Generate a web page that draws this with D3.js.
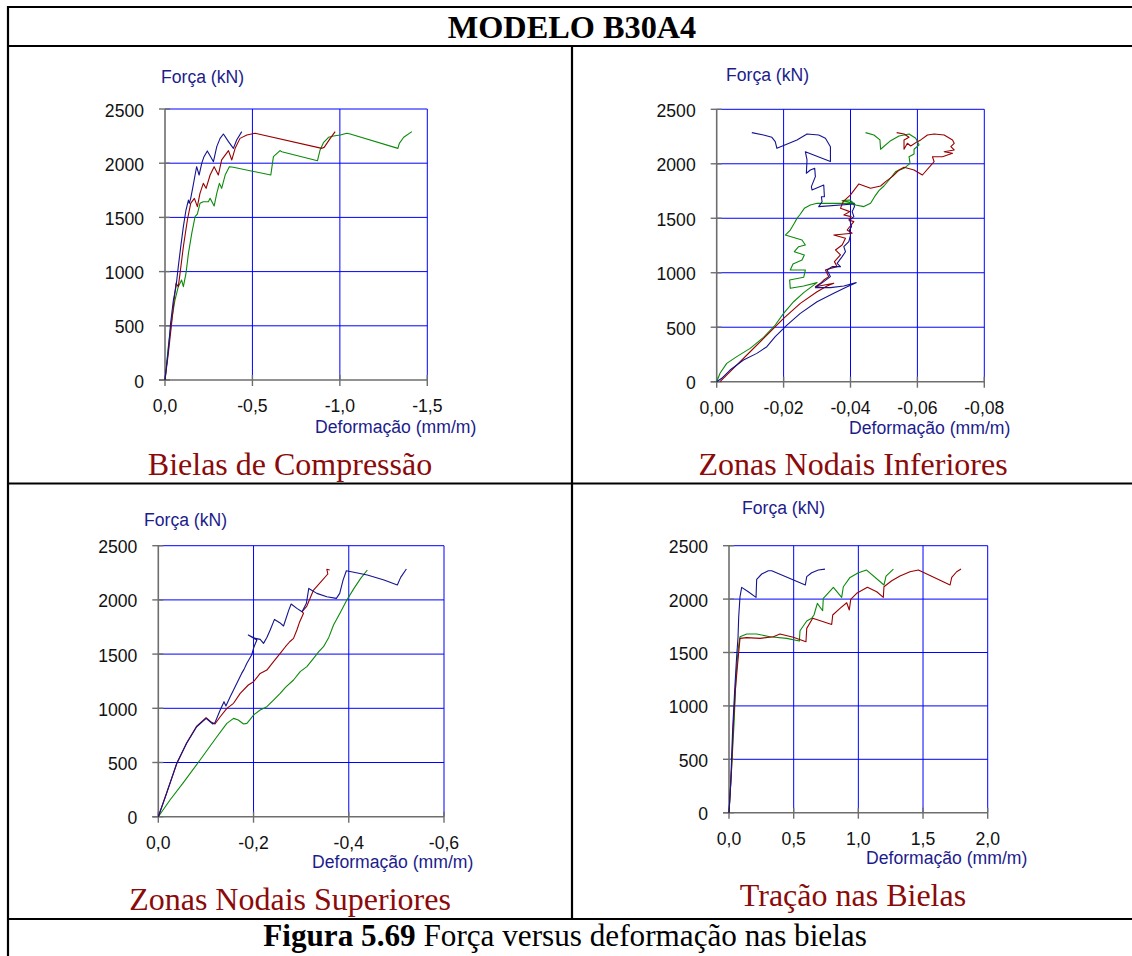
<!DOCTYPE html>
<html><head><meta charset="utf-8">
<script src="https://cdn.jsdelivr.net/npm/d3@7/dist/d3.min.js"></script>
<style>html,body{margin:0;padding:0;background:#fff;}svg{display:block;}</style>
</head><body>
<script>
// ---------- DATA ----------
const title = "MODELO B30A4";
const captionBold = "Figura 5.69";
const captionRest = " Força versus deformação nas bielas";
const panelTitles = ["Bielas de Compressão", "Zonas Nodais Inferiores", "Zonas Nodais Superiores", "Tração nas Bielas"];
const yLabel = "Força (kN)";
const xLabel = "Deformação (mm/m)";
const yTicks = [0, 500, 1000, 1500, 2000, 2500];
const xTicks1 = [0, -0.5, -1.0, -1.5];
const xTicks2 = [0, -0.02, -0.04, -0.06, -0.08];
const xTicks3 = [0, -0.2, -0.4, -0.6];
const xTicks4 = [0, 0.5, 1.0, 1.5, 2.0];
const xTickLabels1 = ["0,0", "-0,5", "-1,0", "-1,5"];
const xTickLabels2 = ["0,00", "-0,02", "-0,04", "-0,06", "-0,08"];
const xTickLabels3 = ["0,0", "-0,2", "-0,4", "-0,6"];
const xTickLabels4 = ["0,0", "0,5", "1,0", "1,5", "2,0"];

// Panel 1 - Bielas de Compressão  [strain, force]
const p1Blue = [[0,0],[-0.019,277],[-0.032,523],[-0.048,738],[-0.063,861],[-0.076,1046],[-0.090,1230],[-0.105,1415],[-0.120,1568],[-0.134,1660],[-0.139,1630],[-0.147,1676],[-0.158,1768],[-0.172,1891],[-0.181,1968],[-0.195,1891],[-0.210,1999],[-0.223,2060],[-0.242,2113],[-0.261,2060],[-0.277,2014],[-0.296,2153],[-0.315,2229],[-0.334,2269],[-0.363,2199],[-0.391,2137],[-0.410,2214],[-0.439,2291]];
const p1Red = [[0,0],[-0.019,246],[-0.038,523],[-0.052,738],[-0.063,892],[-0.076,861],[-0.086,984],[-0.105,1230],[-0.128,1476],[-0.147,1630],[-0.168,1676],[-0.185,1599],[-0.200,1722],[-0.219,1814],[-0.235,1768],[-0.258,1891],[-0.281,1968],[-0.305,1891],[-0.324,2030],[-0.363,2116],[-0.382,2030],[-0.401,2137],[-0.429,2229],[-0.468,2260],[-0.515,2276],[-0.897,2137],[-0.910,2146],[-0.945,2229],[-0.973,2291]];
const p1Green = [[0,0],[-0.019,308],[-0.038,553],[-0.057,738],[-0.076,861],[-0.095,922],[-0.105,861],[-0.120,984],[-0.134,1168],[-0.153,1353],[-0.172,1507],[-0.185,1531],[-0.200,1630],[-0.219,1645],[-0.248,1645],[-0.258,1676],[-0.281,1605],[-0.296,1722],[-0.311,1814],[-0.324,1768],[-0.344,1891],[-0.368,1968],[-0.391,1962],[-0.605,1891],[-0.620,2060],[-0.658,2116],[-0.668,2106],[-0.872,2023],[-0.887,2122],[-0.906,2189],[-0.935,2239],[-0.964,2251],[-1.002,2260],[-1.040,2276],[-1.059,2269],[-1.332,2137],[-1.340,2183],[-1.365,2239],[-1.412,2291]];

// Panel 2 - Zonas Nodais Inferiores
const p2Blue = [[0,0],[-0.0015,31],[-0.004,107],[-0.008,199],[-0.012,260],[-0.015,321],[-0.0175,413],[-0.021,520],[-0.025,627],[-0.030,734],[-0.035,811],[-0.039,872],[-0.0417,909],[-0.038,878],[-0.034,863],[-0.0295,863],[-0.032,918],[-0.034,964],[-0.033,1025],[-0.0345,1056],[-0.037,1056],[-0.036,1086],[-0.0375,1148],[-0.0385,1193],[-0.038,1239],[-0.0395,1285],[-0.040,1346],[-0.0397,1392],[-0.0403,1423],[-0.0398,1484],[-0.041,1515],[-0.0405,1561],[-0.0412,1607],[-0.041,1631],[-0.0305,1607],[-0.0315,1652],[-0.0313,1698],[-0.0322,1698],[-0.032,1805],[-0.0285,1760],[-0.0283,1790],[-0.0295,1882],[-0.0293,1958],[-0.028,1943],[-0.0268,1913],[-0.027,2035],[-0.0265,2111],[-0.034,2020],[-0.034,2157],[-0.0325,2234],[-0.0305,2264],[-0.027,2274],[-0.024,2219],[-0.018,2142],[-0.0175,2203],[-0.0165,2243],[-0.014,2264],[-0.0105,2286]];
const p2Red = [[-0.001,0],[-0.005,122],[-0.010,275],[-0.015,428],[-0.020,581],[-0.025,719],[-0.030,826],[-0.033,878],[-0.035,903],[-0.0295,872],[-0.031,903],[-0.032,933],[-0.0335,964],[-0.0325,1025],[-0.034,1040],[-0.036,1056],[-0.0352,1102],[-0.037,1163],[-0.0355,1209],[-0.0375,1255],[-0.0385,1316],[-0.035,1346],[-0.0405,1362],[-0.039,1392],[-0.041,1469],[-0.0395,1484],[-0.0402,1515],[-0.038,1530],[-0.0398,1561],[-0.037,1591],[-0.0378,1652],[-0.040,1714],[-0.0425,1815],[-0.046,1775],[-0.049,1796],[-0.0505,1836],[-0.0525,1882],[-0.0545,1943],[-0.056,1968],[-0.059,1943],[-0.0615,1897],[-0.065,2020],[-0.0645,2065],[-0.0675,2065],[-0.0705,2096],[-0.068,2111],[-0.071,2127],[-0.070,2157],[-0.071,2188],[-0.0705,2219],[-0.068,2264],[-0.065,2274],[-0.063,2264],[-0.061,2219],[-0.060,2203],[-0.058,2163],[-0.057,2188],[-0.056,2133],[-0.056,2219],[-0.0575,2243],[-0.056,2274],[-0.0538,2286]];
const p2Green = [[0,0],[-0.001,77],[-0.003,168],[-0.006,230],[-0.010,306],[-0.014,407],[-0.0175,520],[-0.020,627],[-0.023,734],[-0.026,817],[-0.030,909],[-0.026,878],[-0.022,857],[-0.0218,933],[-0.026,958],[-0.0265,1025],[-0.022,1025],[-0.0228,1080],[-0.0255,1117],[-0.0262,1163],[-0.0232,1193],[-0.0245,1239],[-0.0265,1255],[-0.0255,1300],[-0.0205,1346],[-0.022,1392],[-0.0232,1454],[-0.024,1499],[-0.0248,1530],[-0.0262,1591],[-0.028,1622],[-0.030,1637],[-0.0412,1637],[-0.0375,1662],[-0.0398,1668],[-0.0415,1622],[-0.044,1607],[-0.046,1637],[-0.0472,1698],[-0.0485,1753],[-0.050,1796],[-0.0515,1851],[-0.0535,1928],[-0.056,1958],[-0.0578,2004],[-0.0575,2065],[-0.059,2090],[-0.059,2133],[-0.0605,2173],[-0.0595,2234],[-0.0575,2274],[-0.0545,2255],[-0.052,2212],[-0.049,2133],[-0.0488,2219],[-0.047,2264],[-0.0445,2286]];

// Panel 3 - Zonas Nodais Superiores
const p3Blue = [[0,0],[-0.0175,215],[-0.0386,492],[-0.0596,677],[-0.0807,830],[-0.1004,907],[-0.1144,855],[-0.119,867],[-0.130,984],[-0.138,1061],[-0.142,1021],[-0.151,1107],[-0.158,1169],[-0.175,1322],[-0.180,1359],[-0.186,1415],[-0.196,1491],[-0.201,1568],[-0.207,1630],[-0.189,1676],[-0.204,1645],[-0.214,1636],[-0.221,1599],[-0.228,1654],[-0.235,1722],[-0.244,1820],[-0.255,1790],[-0.263,1759],[-0.274,1906],[-0.279,1962],[-0.291,1922],[-0.302,1891],[-0.311,1968],[-0.316,2106],[-0.333,2060],[-0.354,2029],[-0.374,2014],[-0.381,2060],[-0.388,2183],[-0.395,2269],[-0.439,2229],[-0.474,2183],[-0.502,2137],[-0.509,2208],[-0.521,2285]];
const p3Red = [[0,0],[-0.0175,221],[-0.0386,486],[-0.0596,683],[-0.0807,836],[-0.1004,913],[-0.110,876],[-0.119,855],[-0.130,922],[-0.144,999],[-0.158,1046],[-0.172,1138],[-0.189,1215],[-0.200,1245],[-0.214,1322],[-0.228,1353],[-0.242,1430],[-0.256,1507],[-0.267,1568],[-0.276,1614],[-0.284,1645],[-0.291,1722],[-0.297,1799],[-0.305,1876],[-0.302,1891],[-0.312,1943],[-0.326,2091],[-0.340,2159],[-0.356,2239],[-0.354,2282],[-0.360,2276]];
const p3Green = [[0,0],[-0.0246,154],[-0.0526,314],[-0.0877,523],[-0.123,738],[-0.144,861],[-0.158,907],[-0.168,892],[-0.179,855],[-0.186,861],[-0.193,898],[-0.200,938],[-0.214,984],[-0.228,1015],[-0.242,1076],[-0.256,1138],[-0.267,1193],[-0.284,1261],[-0.298,1338],[-0.312,1384],[-0.326,1461],[-0.337,1522],[-0.347,1568],[-0.358,1654],[-0.368,1768],[-0.382,1882],[-0.396,1999],[-0.411,2106],[-0.425,2199],[-0.439,2276]];

// Panel 4 - Tração nas Bielas
const p4Blue = [[0,0],[0.013,275],[0.028,774],[0.044,1149],[0.059,1461],[0.070,1648],[0.075,1835],[0.085,2022],[0.098,2110],[0.149,2069],[0.209,2016],[0.214,2185],[0.253,2235],[0.304,2266],[0.330,2266],[0.590,2132],[0.601,2210],[0.639,2247],[0.691,2272],[0.742,2281]];
const p4Red = [[0,0],[0.018,368],[0.034,836],[0.049,1149],[0.067,1398],[0.085,1632],[0.137,1639],[0.240,1632],[0.343,1648],[0.394,1673],[0.497,1642],[0.595,1601],[0.601,1726],[0.647,1820],[0.794,1763],[0.802,1851],[0.858,1913],[0.910,1966],[0.930,1898],[0.941,1997],[0.987,2054],[1.070,2110],[1.142,2069],[1.193,2016],[1.198,2116],[1.258,2172],[1.322,2216],[1.399,2256],[1.464,2272],[1.709,2132],[1.722,2203],[1.760,2256],[1.794,2281]];
const p4Green = [[0,0],[0.018,368],[0.039,836],[0.054,1273],[0.070,1523],[0.085,1648],[0.137,1673],[0.214,1673],[0.317,1648],[0.446,1632],[0.544,1607],[0.549,1704],[0.601,1795],[0.639,1820],[0.657,1851],[0.683,1960],[0.724,1891],[0.729,2007],[0.807,2110],[0.871,2016],[0.884,2116],[0.936,2203],[1.000,2247],[1.064,2272],[1.198,2132],[1.214,2216],[1.271,2281]];

// ---------- LAYOUT / STYLE ----------
const W = 1132, H = 956;
const colors = {blue: "#14148f", red: "#990000", green: "#0b8a0b"};
const sans = "'Liberation Sans', Arial, sans-serif";
const serif = "'Liberation Serif', 'Times New Roman', serif";
const sansSize = 17.6;

const panels = [
  {xd:[0,-1.5], xr:[165,427.3], yr:[380,109], ticks:xTicks1, labels:xTickLabels1, series:[p1Green,p1Red,p1Blue],
   fx:161, fy:83, dx:315, dy:433, title:panelTitles[0], tx:290, ty:475},
  {xd:[0,-0.08], xr:[716.7,984.3], yr:[381.7,109.3], ticks:xTicks2, labels:xTickLabels2, series:[p2Green,p2Red,p2Blue],
   fx:726, fy:81, dx:849, dy:434, title:panelTitles[1], tx:853, ty:475},
  {xd:[0,-0.6], xr:[158.3,444], yr:[816.7,545.7], ticks:xTicks3, labels:xTickLabels3, series:[p3Green,p3Red,p3Blue],
   fx:144, fy:526, dx:312, dy:868, title:panelTitles[2], tx:290, ty:910},
  {xd:[0,2], xr:[729,987.7], yr:[812.7,545.7], ticks:xTicks4, labels:xTickLabels4, series:[p4Green,p4Red,p4Blue],
   fx:742, fy:514, dx:866, dy:864, title:panelTitles[3], tx:853, ty:906}
];
const seriesColors = [colors.green, colors.red, colors.blue];

const svg = d3.select("body").append("svg").attr("width", W).attr("height", H);
svg.append("rect").attr("width", W).attr("height", H).attr("fill", "#fff");

// table frame
const frame = svg.append("g").attr("stroke", "#000").attr("stroke-width", 2.2);
frame.append("line").attr("x1", 7).attr("x2", W).attr("y1", 7).attr("y2", 7);
frame.append("line").attr("x1", 8).attr("x2", 8).attr("y1", 6).attr("y2", H);
frame.append("line").attr("x1", 8).attr("x2", W).attr("y1", 46).attr("y2", 46);
frame.append("line").attr("x1", 8).attr("x2", W).attr("y1", 483.5).attr("y2", 483.5);
frame.append("line").attr("x1", 8).attr("x2", W).attr("y1", 919).attr("y2", 919);
frame.append("line").attr("x1", 572).attr("x2", 572).attr("y1", 46).attr("y2", 919);

svg.append("text").attr("x", 572).attr("y", 38).attr("text-anchor", "middle")
  .attr("font-family", serif).attr("font-weight", "bold").attr("font-size", 32.3).text(title);

const cap = svg.append("text").attr("x", 565).attr("y", 946).attr("text-anchor", "middle")
  .attr("font-family", serif).attr("font-size", 31.2);
cap.append("tspan").attr("font-weight", "bold").text(captionBold);
cap.append("tspan").text(captionRest);

panels.forEach(p => {
  const x = d3.scaleLinear().domain(p.xd).range(p.xr);
  const y = d3.scaleLinear().domain([0, 2500]).range(p.yr);
  const g = svg.append("g");

  // grid
  g.selectAll(".gx").data(p.ticks.slice(1)).join("line")
    .attr("x1", d => x(d)).attr("x2", d => x(d)).attr("y1", y(0)).attr("y2", y(2500))
    .attr("stroke", "#0000ff").attr("stroke-width", 1);
  g.selectAll(".gy").data(yTicks.slice(1)).join("line")
    .attr("x1", x(p.xd[0])).attr("x2", x(p.xd[1])).attr("y1", d => y(d)).attr("y2", d => y(d))
    .attr("stroke", "#0000ff").attr("stroke-width", 1);

  // axes
  const axisCol = "#6e6e6e";
  g.append("line").attr("x1", x(p.xd[0])).attr("x2", x(p.xd[0])).attr("y1", y(0)).attr("y2", y(2500))
    .attr("stroke", axisCol).attr("stroke-width", 1.6);
  g.append("line").attr("x1", x(p.xd[0]) - 6).attr("x2", x(p.xd[1])).attr("y1", y(0)).attr("y2", y(0))
    .attr("stroke", axisCol).attr("stroke-width", 1.6);
  g.selectAll(".ty").data(yTicks).join("line")
    .attr("x1", x(p.xd[0]) - 6).attr("x2", x(p.xd[0]) + 5).attr("y1", d => y(d)).attr("y2", d => y(d))
    .attr("stroke", axisCol).attr("stroke-width", 1.4);
  g.selectAll(".tx").data(p.ticks).join("line")
    .attr("x1", d => x(d)).attr("x2", d => x(d)).attr("y1", y(0) - 5).attr("y2", y(0) + 6)
    .attr("stroke", axisCol).attr("stroke-width", 1.4);

  // tick labels
  g.selectAll(".lx").data(p.ticks).join("text")
    .attr("x", d => x(d)).attr("y", y(0) + 32).attr("text-anchor", "middle")
    .attr("font-family", sans).attr("font-size", sansSize).attr("fill", "#111")
    .text((d, i) => p.labels[i]);
  g.selectAll(".ly").data(yTicks).join("text")
    .attr("x", x(p.xd[0]) - 21).attr("y", d => y(d) + 7.5).attr("text-anchor", "end")
    .attr("font-family", sans).attr("font-size", sansSize).attr("fill", "#111")
    .text(d => d);

  // axis titles
  g.append("text").attr("x", p.fx).attr("y", p.fy).attr("font-family", sans).attr("font-size", sansSize)
    .attr("fill", "#1c1c8c").text(yLabel);
  g.append("text").attr("x", p.dx).attr("y", p.dy).attr("font-family", sans).attr("font-size", sansSize)
    .attr("fill", "#1c1c8c").text(xLabel);

  // series
  const line = d3.line().x(d => x(d[0])).y(d => y(d[1]));
  p.series.forEach((s, i) => {
    g.append("path").datum(s).attr("d", line).attr("fill", "none")
      .attr("stroke", seriesColors[i]).attr("stroke-width", 1.1).attr("stroke-linejoin", "round");
  });

  // panel title
  svg.append("text").attr("x", p.tx).attr("y", p.ty).attr("text-anchor", "middle")
    .attr("font-family", serif).attr("font-size", 32).attr("fill", "#8b0a0a").text(p.title);
});
</script>
</body></html>
